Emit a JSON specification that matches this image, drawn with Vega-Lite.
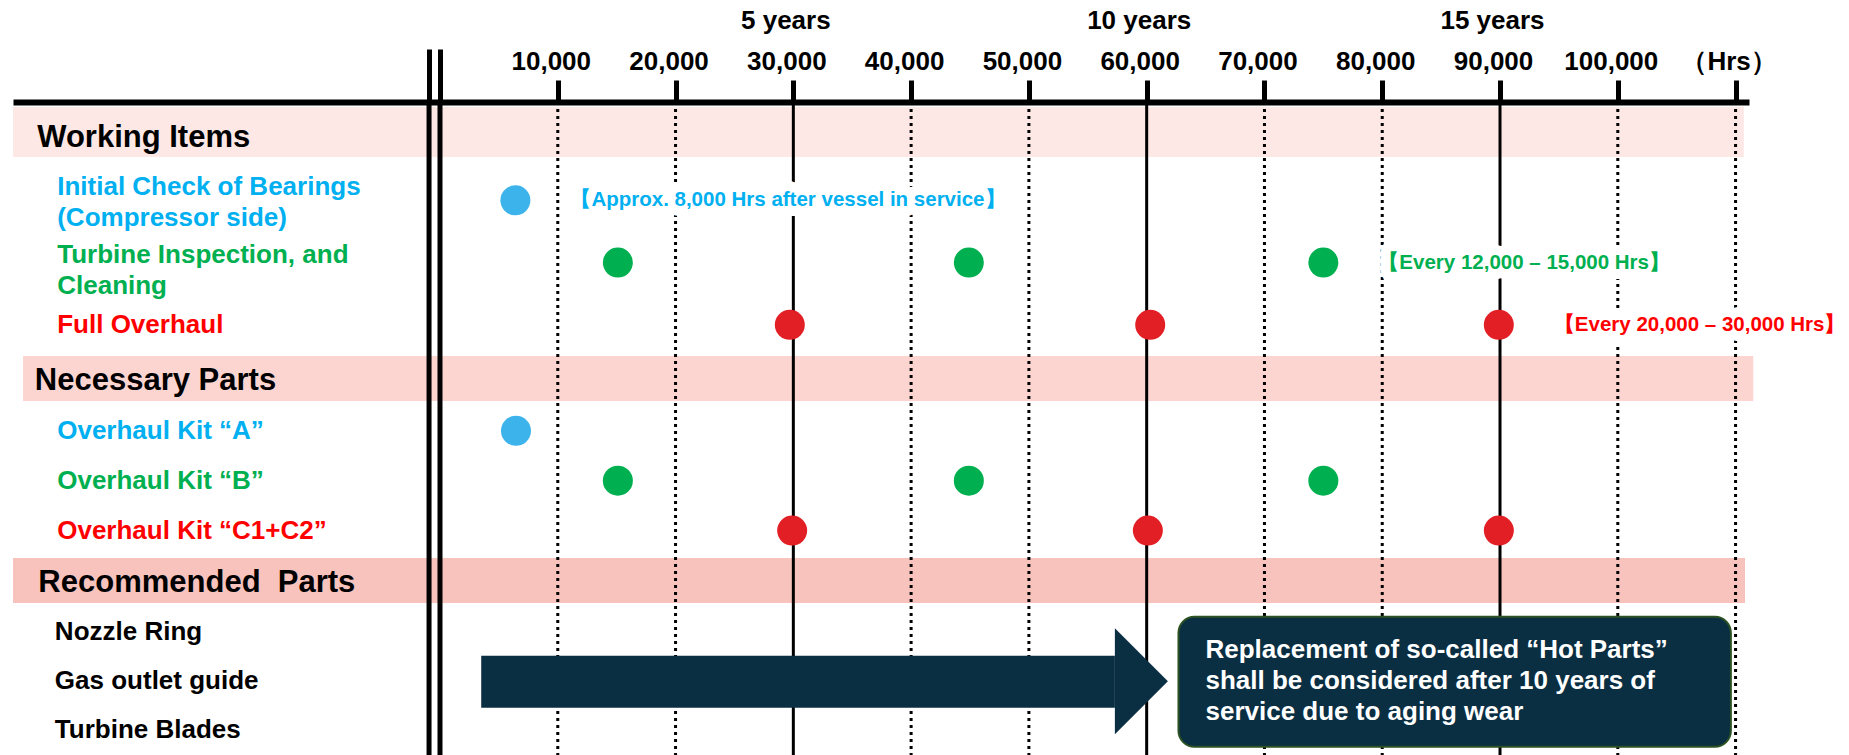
{
  "$schema": "https://vega.github.io/schema/vega-lite/v6.json",
  "width": 1736,
  "height": 653,
  "autosize": "none",
  "padding": {"left": 13, "top": 102, "right": 100, "bottom": 0},
  "background": "white",
  "config": {"view": {"stroke": null}, "font": "Liberation Sans"},
  "datasets": {
    "rows": [
      {"section": "Working Items", "item": "Working Items", "label": "Working Items", "level": "header", "task": "none"},
      {"section": "Working Items", "item": "Initial Check of Bearings (Compressor side)", "label": "Initial Check of Bearings\n(Compressor side)", "level": "item2", "task": "initial"},
      {"section": "Working Items", "item": "Turbine Inspection, and Cleaning", "label": "Turbine Inspection, and\nCleaning", "level": "item3", "task": "periodic"},
      {"section": "Working Items", "item": "Full Overhaul", "label": "Full Overhaul", "level": "item", "task": "overhaul"},
      {"section": "Necessary Parts", "item": "Necessary Parts", "label": "Necessary Parts", "level": "header", "task": "none"},
      {"section": "Necessary Parts", "item": "Overhaul Kit “A”", "label": "Overhaul Kit “A”", "level": "item", "task": "initial"},
      {"section": "Necessary Parts", "item": "Overhaul Kit “B”", "label": "Overhaul Kit “B”", "level": "item", "task": "periodic"},
      {"section": "Necessary Parts", "item": "Overhaul Kit “C1+C2”", "label": "Overhaul Kit “C1+C2”", "level": "item", "task": "overhaul"},
      {"section": "Recommended Parts", "item": "Recommended  Parts", "label": "Recommended\u00a0 Parts", "level": "header", "task": "none"},
      {"section": "Recommended Parts", "item": "Nozzle Ring", "label": "Nozzle Ring", "level": "item", "task": "none"},
      {"section": "Recommended Parts", "item": "Gas outlet guide", "label": "Gas outlet guide", "level": "item", "task": "none"},
      {"section": "Recommended Parts", "item": "Turbine Blades", "label": "Turbine Blades", "level": "item", "task": "none"}
    ],
    "lines": [
      {"hours": -930, "kind": "boundary"},
      {"hours": 0, "kind": "boundary"},
      {"hours": 10000, "kind": "interval"},
      {"hours": 20000, "kind": "interval"},
      {"hours": 40000, "kind": "interval"},
      {"hours": 50000, "kind": "interval"},
      {"hours": 70000, "kind": "interval"},
      {"hours": 80000, "kind": "interval"},
      {"hours": 100000, "kind": "interval"},
      {"hours": 110000, "kind": "interval"}
    ],
    "milestones": [
      {"hours": 30000, "years": 5},
      {"hours": 60000, "years": 10},
      {"hours": 90000, "years": 15}
    ],
    "events": [
      {"section": "Working Items", "item": "Initial Check of Bearings (Compressor side)", "hours": 6400, "task": "initial"},
      {"section": "Working Items", "item": "Turbine Inspection, and Cleaning", "hours": 15100, "task": "periodic"},
      {"section": "Working Items", "item": "Turbine Inspection, and Cleaning", "hours": 44900, "task": "periodic"},
      {"section": "Working Items", "item": "Turbine Inspection, and Cleaning", "hours": 75000, "task": "periodic"},
      {"section": "Working Items", "item": "Full Overhaul", "hours": 29700, "task": "overhaul"},
      {"section": "Working Items", "item": "Full Overhaul", "hours": 60300, "task": "overhaul"},
      {"section": "Working Items", "item": "Full Overhaul", "hours": 89900, "task": "overhaul"},
      {"section": "Necessary Parts", "item": "Overhaul Kit “A”", "hours": 6450, "task": "initial"},
      {"section": "Necessary Parts", "item": "Overhaul Kit “B”", "hours": 15100, "task": "periodic"},
      {"section": "Necessary Parts", "item": "Overhaul Kit “B”", "hours": 44900, "task": "periodic"},
      {"section": "Necessary Parts", "item": "Overhaul Kit “B”", "hours": 75000, "task": "periodic"},
      {"section": "Necessary Parts", "item": "Overhaul Kit “C1+C2”", "hours": 29900, "task": "overhaul"},
      {"section": "Necessary Parts", "item": "Overhaul Kit “C1+C2”", "hours": 60100, "task": "overhaul"},
      {"section": "Necessary Parts", "item": "Overhaul Kit “C1+C2”", "hours": 89900, "task": "overhaul"}
    ],
    "notes": [
      {"item": "Initial Check of Bearings (Compressor side)", "hours": 6400, "task": "initial", "note": "【Approx. 8,000 Hrs after vessel in service】"},
      {"item": "Turbine Inspection, and Cleaning", "hours": 75000, "task": "periodic", "note": "【Every 12,000 – 15,000 Hrs】"},
      {"item": "Full Overhaul", "hours": 89900, "task": "overhaul", "note": "【Every 20,000 – 30,000 Hrs】"}
    ],
    "arrow": [
      {"item": "Gas outlet guide", "start": 3500, "end": 57300}
    ],
    "callout": [
      {"item": "Gas outlet guide", "start": 62700, "end": 109600, "text": "Replacement of so-called “Hot Parts”\nshall be considered after 10 years of\nservice due to aging wear"}
    ]
  },
  "resolve": {"scale": {"color": "independent", "y": "independent"}, "axis": {"x": "independent"}},
  "layer": [
    {
      "data": {"name": "rows"},
      "transform": [{"filter": "datum.item == 'Working Items'"}],
      "mark": {"type": "rect", "color": "#FDE8E5"},
      "encoding": {
        "x": {"datum": -36250, "type": "quantitative", "scale": {"domain": [-36254, 111140], "nice": false, "zero": false}, "axis": null},
        "x2": {"datum": 110700},
        "y": {"field": "item", "type": "nominal", "axis": null, "scale": {"domain": ["Working Items", "Initial Check of Bearings (Compressor side)", "Turbine Inspection, and Cleaning", "Full Overhaul"], "range": [5, 253.9], "paddingInner": 0.246, "paddingOuter": 0}}
      }
    },
    {
      "data": {"name": "rows"},
      "transform": [{"filter": "datum.item == 'Necessary Parts'"}],
      "mark": {"type": "rect", "color": "#FCD5D1"},
      "encoding": {
        "x": {"datum": -35400, "type": "quantitative", "axis": null},
        "x2": {"datum": 111500},
        "y": {"field": "item", "type": "nominal", "axis": null, "scale": {"domain": ["Necessary Parts", "Overhaul Kit “A”", "Overhaul Kit “B”", "Overhaul Kit “C1+C2”"], "range": [254, 453.5], "paddingInner": 0.126, "paddingOuter": 0}}
      }
    },
    {
      "data": {"name": "rows"},
      "transform": [{"filter": "datum.item == 'Recommended  Parts'"}],
      "mark": {"type": "rect", "color": "#F8C2BD"},
      "encoding": {
        "x": {"datum": -36250, "type": "quantitative", "axis": null},
        "x2": {"datum": 110800},
        "y": {"field": "item", "type": "nominal", "axis": null, "scale": {"domain": ["Recommended  Parts", "Nozzle Ring", "Gas outlet guide", "Turbine Blades"], "range": [456, 653], "paddingInner": 0.112, "paddingOuter": 0}}
      }
    },
    {
      "data": {"name": "lines"},
      "mark": {"type": "rule", "color": "#000000"},
      "encoding": {
        "x": {
          "field": "hours", "type": "quantitative",
          "scale": {"domain": [-36254, 111140], "nice": false, "zero": false},
          "axis": {
            "orient": "top",
            "title": null,
            "values": [-930, 0, 10000, 20000, 30000, 40000, 50000, 60000, 70000, 80000, 90000, 100000, 110000],
            "labelExpr": "datum.value <= 0 ? '' : datum.value > 105000 ? '（Hrs）' : format(datum.value, ',')",
            "labelFont": "Liberation Sans",
            "labelFontSize": 26,
            "labelFontWeight": "bold",
            "labelColor": "#000000",
            "labelPadding": 6,
            "labelOffset": -7,
            "labelFlush": false,
            "labelOverlap": false,
            "domain": true,
            "domainColor": "#000000",
            "domainWidth": 6,
            "ticks": true,
            "tickColor": "#000000",
            "tickWidth": 5,
            "tickSize": {"condition": {"test": "datum.value <= 0", "value": 53}, "value": 22},
            "grid": false
          }
        },
        "strokeDash": {"field": "kind", "type": "nominal", "scale": {"domain": ["boundary", "interval"], "range": [[1, 0], [3, 4]]}, "legend": null},
        "strokeWidth": {"field": "kind", "type": "nominal", "scale": {"domain": ["boundary", "interval"], "range": [5, 3]}, "legend": null}
      }
    },
    {
      "data": {"name": "milestones"},
      "mark": {"type": "rule", "color": "#000000", "strokeWidth": 3},
      "encoding": {
        "x": {
          "field": "hours", "type": "quantitative",
          "axis": {
            "orient": "top",
            "title": null,
            "values": [30000, 60000, 90000],
            "labelExpr": "datum.value / 6000 + ' years'",
            "labelFont": "Liberation Sans",
            "labelFontSize": 26,
            "labelFontWeight": "bold",
            "labelColor": "#000000",
            "labelPadding": 69,
            "labelOffset": -8,
            "labelFlush": false,
            "domain": false,
            "ticks": false,
            "tickSize": 0,
            "grid": false
          }
        }
      }
    },
    {
      "data": {"name": "rows"},
      "transform": [{"filter": "datum.item == 'Working Items'"}],
      "mark": {"type": "text", "align": "left", "baseline": "middle", "font": "Liberation Sans", "fontSize": 31, "fontWeight": "bold", "color": "#000000"},
      "encoding": {
        "x": {"datum": -34200, "type": "quantitative", "axis": null},
        "y": {"field": "item", "type": "nominal", "axis": null, "scale": {"domain": ["Working Items", "Initial Check of Bearings (Compressor side)", "Turbine Inspection, and Cleaning", "Full Overhaul"], "range": [5, 253.9], "paddingInner": 0.246, "paddingOuter": 0}},
        "text": {"field": "label"}
      }
    },
    {
      "data": {"name": "rows"},
      "transform": [{"filter": "datum.item == 'Necessary Parts'"}],
      "mark": {"type": "text", "align": "left", "baseline": "middle", "font": "Liberation Sans", "fontSize": 31, "fontWeight": "bold", "color": "#000000"},
      "encoding": {
        "x": {"datum": -34400, "type": "quantitative", "axis": null},
        "y": {"field": "item", "type": "nominal", "axis": null, "scale": {"domain": ["Necessary Parts", "Overhaul Kit “A”", "Overhaul Kit “B”", "Overhaul Kit “C1+C2”"], "range": [254, 453.5], "paddingInner": 0.126, "paddingOuter": 0}},
        "text": {"field": "label"}
      }
    },
    {
      "data": {"name": "rows"},
      "transform": [{"filter": "datum.item == 'Recommended  Parts'"}],
      "mark": {"type": "text", "align": "left", "baseline": "middle", "font": "Liberation Sans", "fontSize": 31, "fontWeight": "bold", "color": "#000000"},
      "encoding": {
        "x": {"datum": -34100, "type": "quantitative", "axis": null},
        "y": {"field": "item", "type": "nominal", "axis": null, "scale": {"domain": ["Recommended  Parts", "Nozzle Ring", "Gas outlet guide", "Turbine Blades"], "range": [456, 653], "paddingInner": 0.112, "paddingOuter": 0}},
        "text": {"field": "label"}
      }
    },
    {
      "data": {"name": "rows"},
      "transform": [{"filter": "datum.section == 'Working Items' && datum.level == 'item'"}],
      "mark": {"type": "text", "align": "left", "baseline": "middle", "font": "Liberation Sans", "fontSize": 26, "fontWeight": "bold"},
      "encoding": {
        "x": {"datum": -32500, "type": "quantitative", "axis": null},
        "y": {"field": "item", "type": "nominal", "axis": null, "scale": {"domain": ["Working Items", "Initial Check of Bearings (Compressor side)", "Turbine Inspection, and Cleaning", "Full Overhaul"], "range": [5, 253.9], "paddingInner": 0.246, "paddingOuter": 0}},
        "text": {"field": "label"},
        "color": {"field": "task", "type": "nominal", "scale": {"domain": ["none", "initial", "periodic", "overhaul"], "range": ["#000000", "#00B0F0", "#00B050", "#FF0000"]}, "legend": null}
      }
    },
    {
      "data": {"name": "rows"},
      "transform": [{"filter": "datum.level == 'item3'"}],
      "mark": {"type": "text", "align": "left", "baseline": "alphabetic", "font": "Liberation Sans", "fontSize": 26, "fontWeight": "bold", "lineBreak": "\n", "lineHeight": 31},
      "encoding": {
        "x": {"datum": -32500, "type": "quantitative", "axis": null},
        "y": {"field": "item", "type": "nominal", "axis": null, "scale": {"domain": ["Working Items", "Initial Check of Bearings (Compressor side)", "Turbine Inspection, and Cleaning", "Full Overhaul"], "range": [5, 253.9], "paddingInner": 0.246, "paddingOuter": 0}},
        "text": {"field": "label"},
        "color": {"field": "task", "type": "nominal", "scale": {"domain": ["none", "initial", "periodic", "overhaul"], "range": ["#000000", "#00B0F0", "#00B050", "#FF0000"]}, "legend": null}
      }
    },
    {
      "data": {"name": "rows"},
      "transform": [{"filter": "datum.level == 'item2'"}],
      "mark": {"type": "text", "align": "left", "baseline": "bottom", "font": "Liberation Sans", "fontSize": 26, "fontWeight": "bold", "lineBreak": "\n", "lineHeight": 31},
      "encoding": {
        "x": {"datum": -32500, "type": "quantitative", "axis": null},
        "y": {"field": "item", "type": "nominal", "axis": null, "scale": {"domain": ["Working Items", "Initial Check of Bearings (Compressor side)", "Turbine Inspection, and Cleaning", "Full Overhaul"], "range": [5, 253.9], "paddingInner": 0.246, "paddingOuter": 0}},
        "text": {"field": "label"},
        "color": {"field": "task", "type": "nominal", "scale": {"domain": ["none", "initial", "periodic", "overhaul"], "range": ["#000000", "#00B0F0", "#00B050", "#FF0000"]}, "legend": null}
      }
    },
    {
      "data": {"name": "rows"},
      "transform": [{"filter": "datum.section == 'Necessary Parts' && datum.level == 'item'"}],
      "mark": {"type": "text", "align": "left", "baseline": "middle", "font": "Liberation Sans", "fontSize": 26, "fontWeight": "bold"},
      "encoding": {
        "x": {"datum": -32500, "type": "quantitative", "axis": null},
        "y": {"field": "item", "type": "nominal", "axis": null, "scale": {"domain": ["Necessary Parts", "Overhaul Kit “A”", "Overhaul Kit “B”", "Overhaul Kit “C1+C2”"], "range": [254, 453.5], "paddingInner": 0.126, "paddingOuter": 0}},
        "text": {"field": "label"},
        "color": {"field": "task", "type": "nominal", "scale": {"domain": ["none", "initial", "periodic", "overhaul"], "range": ["#000000", "#00B0F0", "#00B050", "#FF0000"]}, "legend": null}
      }
    },
    {
      "data": {"name": "rows"},
      "transform": [{"filter": "datum.section == 'Recommended Parts' && datum.level == 'item'"}],
      "mark": {"type": "text", "align": "left", "baseline": "middle", "font": "Liberation Sans", "fontSize": 26, "fontWeight": "bold", "color": "#000000"},
      "encoding": {
        "x": {"datum": -32700, "type": "quantitative", "axis": null},
        "y": {"field": "item", "type": "nominal", "axis": null, "scale": {"domain": ["Recommended  Parts", "Nozzle Ring", "Gas outlet guide", "Turbine Blades"], "range": [456, 653], "paddingInner": 0.112, "paddingOuter": 0}},
        "text": {"field": "label"}
      }
    },
    {
      "data": {"name": "notes"},
      "mark": {"type": "text", "align": "left", "baseline": "middle", "dx": 55, "font": "Liberation Sans", "fontSize": 20.5, "fontWeight": "bold", "fill": "#FFFFFF", "stroke": "#FFFFFF", "strokeWidth": 20, "strokeJoin": "round"},
      "encoding": {
        "x": {"field": "hours", "type": "quantitative", "axis": null},
        "y": {"field": "item", "type": "nominal", "axis": null, "scale": {"domain": ["Working Items", "Initial Check of Bearings (Compressor side)", "Turbine Inspection, and Cleaning", "Full Overhaul"], "range": [5, 253.9], "paddingInner": 0.246, "paddingOuter": 0}},
        "text": {"field": "note"}
      }
    },
    {
      "data": {"name": "events"},
      "transform": [{"filter": "datum.section == 'Working Items'"}],
      "mark": {"type": "point", "shape": "circle", "filled": true, "size": 900, "opacity": 1, "strokeWidth": 0},
      "encoding": {
        "x": {"field": "hours", "type": "quantitative", "axis": null},
        "y": {"field": "item", "type": "nominal", "axis": null, "scale": {"domain": ["Working Items", "Initial Check of Bearings (Compressor side)", "Turbine Inspection, and Cleaning", "Full Overhaul"], "range": [5, 253.9], "paddingInner": 0.246, "paddingOuter": 0}},
        "color": {"field": "task", "type": "nominal", "scale": {"domain": ["initial", "periodic", "overhaul"], "range": ["#3CB4EB", "#00B050", "#E31F26"]}, "legend": null}
      }
    },
    {
      "data": {"name": "events"},
      "transform": [{"filter": "datum.section == 'Necessary Parts'"}],
      "mark": {"type": "point", "shape": "circle", "filled": true, "size": 900, "opacity": 1, "strokeWidth": 0},
      "encoding": {
        "x": {"field": "hours", "type": "quantitative", "axis": null},
        "y": {"field": "item", "type": "nominal", "axis": null, "scale": {"domain": ["Necessary Parts", "Overhaul Kit “A”", "Overhaul Kit “B”", "Overhaul Kit “C1+C2”"], "range": [254, 453.5], "paddingInner": 0.126, "paddingOuter": 0}},
        "color": {"field": "task", "type": "nominal", "scale": {"domain": ["initial", "periodic", "overhaul"], "range": ["#3CB4EB", "#00B050", "#E31F26"]}, "legend": null}
      }
    },
    {
      "data": {"name": "notes"},
      "mark": {"type": "text", "align": "left", "baseline": "middle", "dx": 55, "font": "Liberation Sans", "fontSize": 20.5, "fontWeight": "bold"},
      "encoding": {
        "x": {"field": "hours", "type": "quantitative", "axis": null},
        "y": {"field": "item", "type": "nominal", "axis": null, "scale": {"domain": ["Working Items", "Initial Check of Bearings (Compressor side)", "Turbine Inspection, and Cleaning", "Full Overhaul"], "range": [5, 253.9], "paddingInner": 0.246, "paddingOuter": 0}},
        "text": {"field": "note"},
        "color": {"field": "task", "type": "nominal", "scale": {"domain": ["initial", "periodic", "overhaul"], "range": ["#00B0F0", "#00B050", "#FF0000"]}, "legend": null}
      }
    },
    {
      "data": {"name": "arrow"},
      "mark": {"type": "rule", "color": "#0A2E42", "strokeWidth": 52, "strokeCap": "butt"},
      "encoding": {
        "x": {"field": "start", "type": "quantitative", "axis": null},
        "x2": {"field": "end"},
        "y": {"field": "item", "type": "nominal", "axis": null, "scale": {"domain": ["Recommended  Parts", "Nozzle Ring", "Gas outlet guide", "Turbine Blades"], "range": [456, 653], "paddingInner": 0.112, "paddingOuter": 0}}
      }
    },
    {
      "data": {"name": "arrow"},
      "mark": {"type": "point", "shape": "M0,-1L1,0L0,1Z", "filled": true, "size": 11236, "opacity": 1, "color": "#0A2E42", "strokeWidth": 0},
      "encoding": {
        "x": {"field": "end", "type": "quantitative", "axis": null},
        "y": {"field": "item", "type": "nominal", "axis": null, "scale": {"domain": ["Recommended  Parts", "Nozzle Ring", "Gas outlet guide", "Turbine Blades"], "range": [456, 653], "paddingInner": 0.112, "paddingOuter": 0}}
      }
    },
    {
      "data": {"name": "callout"},
      "mark": {"type": "bar", "height": 130, "cornerRadius": 16, "fill": "#0A2E42", "stroke": "#2C5224", "strokeWidth": 2},
      "encoding": {
        "x": {"field": "start", "type": "quantitative", "axis": null},
        "x2": {"field": "end"},
        "y": {"field": "item", "type": "nominal", "axis": null, "scale": {"domain": ["Recommended  Parts", "Nozzle Ring", "Gas outlet guide", "Turbine Blades"], "range": [456, 653], "paddingInner": 0.112, "paddingOuter": 0}}
      }
    },
    {
      "data": {"name": "callout"},
      "mark": {"type": "text", "align": "left", "baseline": "middle", "dx": 27, "dy": -31, "font": "Liberation Sans", "fontSize": 26, "fontWeight": "bold", "color": "#FFFFFF", "lineBreak": "\n", "lineHeight": 31},
      "encoding": {
        "x": {"field": "start", "type": "quantitative", "axis": null},
        "y": {"field": "item", "type": "nominal", "axis": null, "scale": {"domain": ["Recommended  Parts", "Nozzle Ring", "Gas outlet guide", "Turbine Blades"], "range": [456, 653], "paddingInner": 0.112, "paddingOuter": 0}},
        "text": {"field": "text"}
      }
    }
  ]
}
